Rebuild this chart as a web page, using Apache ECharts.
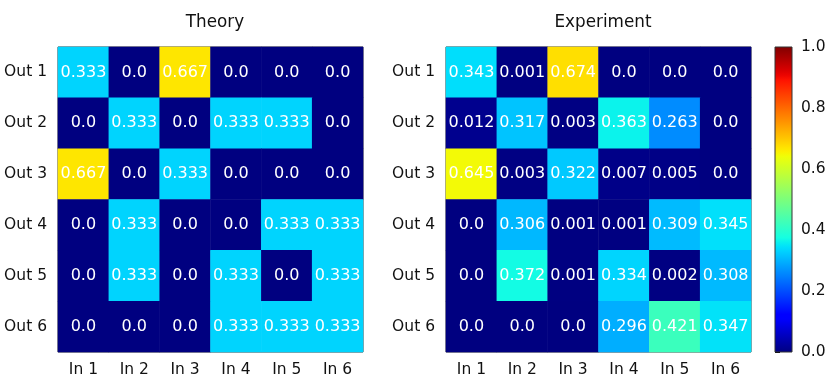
<!DOCTYPE html>
<html>
<head>
<meta charset="utf-8">
<script src="https://cdn.jsdelivr.net/npm/echarts@6/dist/echarts.min.js"></script>
<style>
  html, body { margin: 0; padding: 0; background: #fff; }
  #chart { width: 830px; height: 387px; }
</style>
</head>
<body>
<div id="chart"></div>
<script>
// categories
const inputs = ["In 1", "In 2", "In 3", "In 4", "In 5", "In 6"];
const outputs = ["Out 1", "Out 2", "Out 3", "Out 4", "Out 5", "Out 6"];

// rows = Out 1..6, columns = In 1..6
const theory = [
  [0.333, 0, 0.667, 0, 0, 0],
  [0, 0.333, 0, 0.333, 0.333, 0],
  [0.667, 0, 0.333, 0, 0, 0],
  [0, 0.333, 0, 0, 0.333, 0.333],
  [0, 0.333, 0, 0.333, 0, 0.333],
  [0, 0, 0, 0.333, 0.333, 0.333]
];
const experiment = [
  [0.343, 0.001, 0.674, 0.0, 0.0, 0.0],
  [0.012, 0.317, 0.003, 0.363, 0.263, 0.0],
  [0.645, 0.003, 0.322, 0.007, 0.005, 0.0],
  [0.0, 0.306, 0.001, 0.001, 0.309, 0.345],
  [0.0, 0.372, 0.001, 0.334, 0.002, 0.308],
  [0.0, 0.0, 0.0, 0.296, 0.421, 0.347]
];

// matplotlib jet colormap
function interp(xs, ys, t) {
  for (let i = 1; i < xs.length; i++) {
    if (t <= xs[i]) {
      const f = (t - xs[i - 1]) / (xs[i] - xs[i - 1]);
      return ys[i - 1] + f * (ys[i] - ys[i - 1]);
    }
  }
  return ys[ys.length - 1];
}
function jet(t) {
  const r = interp([0, 0.35, 0.66, 0.89, 1], [0, 0, 1, 1, 0.5], t);
  const g = interp([0, 0.125, 0.375, 0.64, 0.91, 1], [0, 0, 1, 1, 0, 0], t);
  const b = interp([0, 0.11, 0.34, 0.65, 1], [0.5, 1, 1, 0, 0], t);
  const h = v => Math.round(v * 255).toString(16).padStart(2, "0");
  return "#" + h(r) + h(g) + h(b);
}
const jetColors = [];
for (let i = 0; i <= 64; i++) jetColors.push(jet(i / 64));

function toCells(m) {
  const out = [];
  m.forEach((row, r) => row.forEach((v, c) => out.push([c, r, v])));
  return out;
}
function fmt(v) {
  return v === 0 ? "0.0" : String(v);
}

const font = "DejaVu Sans";
const tickSize = 15.5;
const gridPos = [
  { left: 58, top: 47, width: 305, height: 305 },
  { left: 446, top: 47, width: 305, height: 305 },
  { left: 775, top: 47, width: 17, height: 305 }
];

const chart = echarts.init(document.getElementById("chart"));

const xAxes = [0, 1].map(i => ({
  type: "category",
  gridIndex: i,
  data: inputs,
  axisLine: { show: false },
  axisTick: { alignWithLabel: true, length: 5, lineStyle: { color: "#000" } },
  axisLabel: { color: "#111", fontFamily: font, fontSize: tickSize, margin: 10 },
  splitLine: { show: false }
}));
xAxes.push({ type: "value", gridIndex: 2, show: false, min: 0, max: 1 });

const yAxes = [0, 1].map(i => ({
  type: "category",
  gridIndex: i,
  data: outputs,
  inverse: true,
  axisLine: { show: false },
  axisTick: { alignWithLabel: true, length: 5, lineStyle: { color: "#000" } },
  axisLabel: { color: "#111", fontFamily: font, fontSize: tickSize, margin: 11 },
  splitLine: { show: false }
}));
yAxes.push({
  type: "value",
  gridIndex: 2,
  position: "right",
  min: 0,
  max: 1,
  interval: 0.2,
  axisLine: { show: false },
  axisTick: { show: true, length: 5, lineStyle: { color: "#000" } },
  axisLabel: { color: "#111", fontFamily: font, fontSize: tickSize, margin: 9, formatter: v => v.toFixed(1) },
  splitLine: { show: false }
});

const gradStops = jetColors.map((c, i) => ({ offset: 1 - i / 64, color: c }));

chart.setOption({
  backgroundColor: "#fff",
  animation: false,
  title: [
    { text: "Theory", left: 210, top: 9, textAlign: "center",
      textStyle: { fontFamily: font, fontSize: 16.8, fontWeight: "normal", color: "#111" } },
    { text: "Experiment", left: 598, top: 9, textAlign: "center",
      textStyle: { fontFamily: font, fontSize: 16.8, fontWeight: "normal", color: "#111" } }
  ],
  grid: gridPos.map((g, i) => Object.assign({}, g, {
    show: i < 2,
    borderColor: "#333",
    borderWidth: 1,
    backgroundColor: "transparent"
  })),
  xAxis: xAxes,
  yAxis: yAxes,
  visualMap: {
    show: false,
    min: 0,
    max: 1,
    seriesIndex: [0, 1],
    inRange: { color: jetColors }
  },
  graphic: [{
    type: "rect",
    shape: { x: 775, y: 47, width: 17, height: 305 },
    style: {
      fill: { type: "linear", x: 0, y: 0, x2: 0, y2: 1, colorStops: gradStops },
      stroke: "#333",
      lineWidth: 1
    },
    z: 10
  }],
  series: [theory, experiment].map((m, i) => ({
    type: "heatmap",
    xAxisIndex: i,
    yAxisIndex: i,
    data: toCells(m),
    label: {
      show: true,
      color: "#fff",
      fontFamily: font,
      fontSize: 16,
      formatter: p => fmt(p.value[2])
    },
    itemStyle: { borderWidth: 0 },
    emphasis: { disabled: true }
  }))
});
</script>
</body>
</html>
